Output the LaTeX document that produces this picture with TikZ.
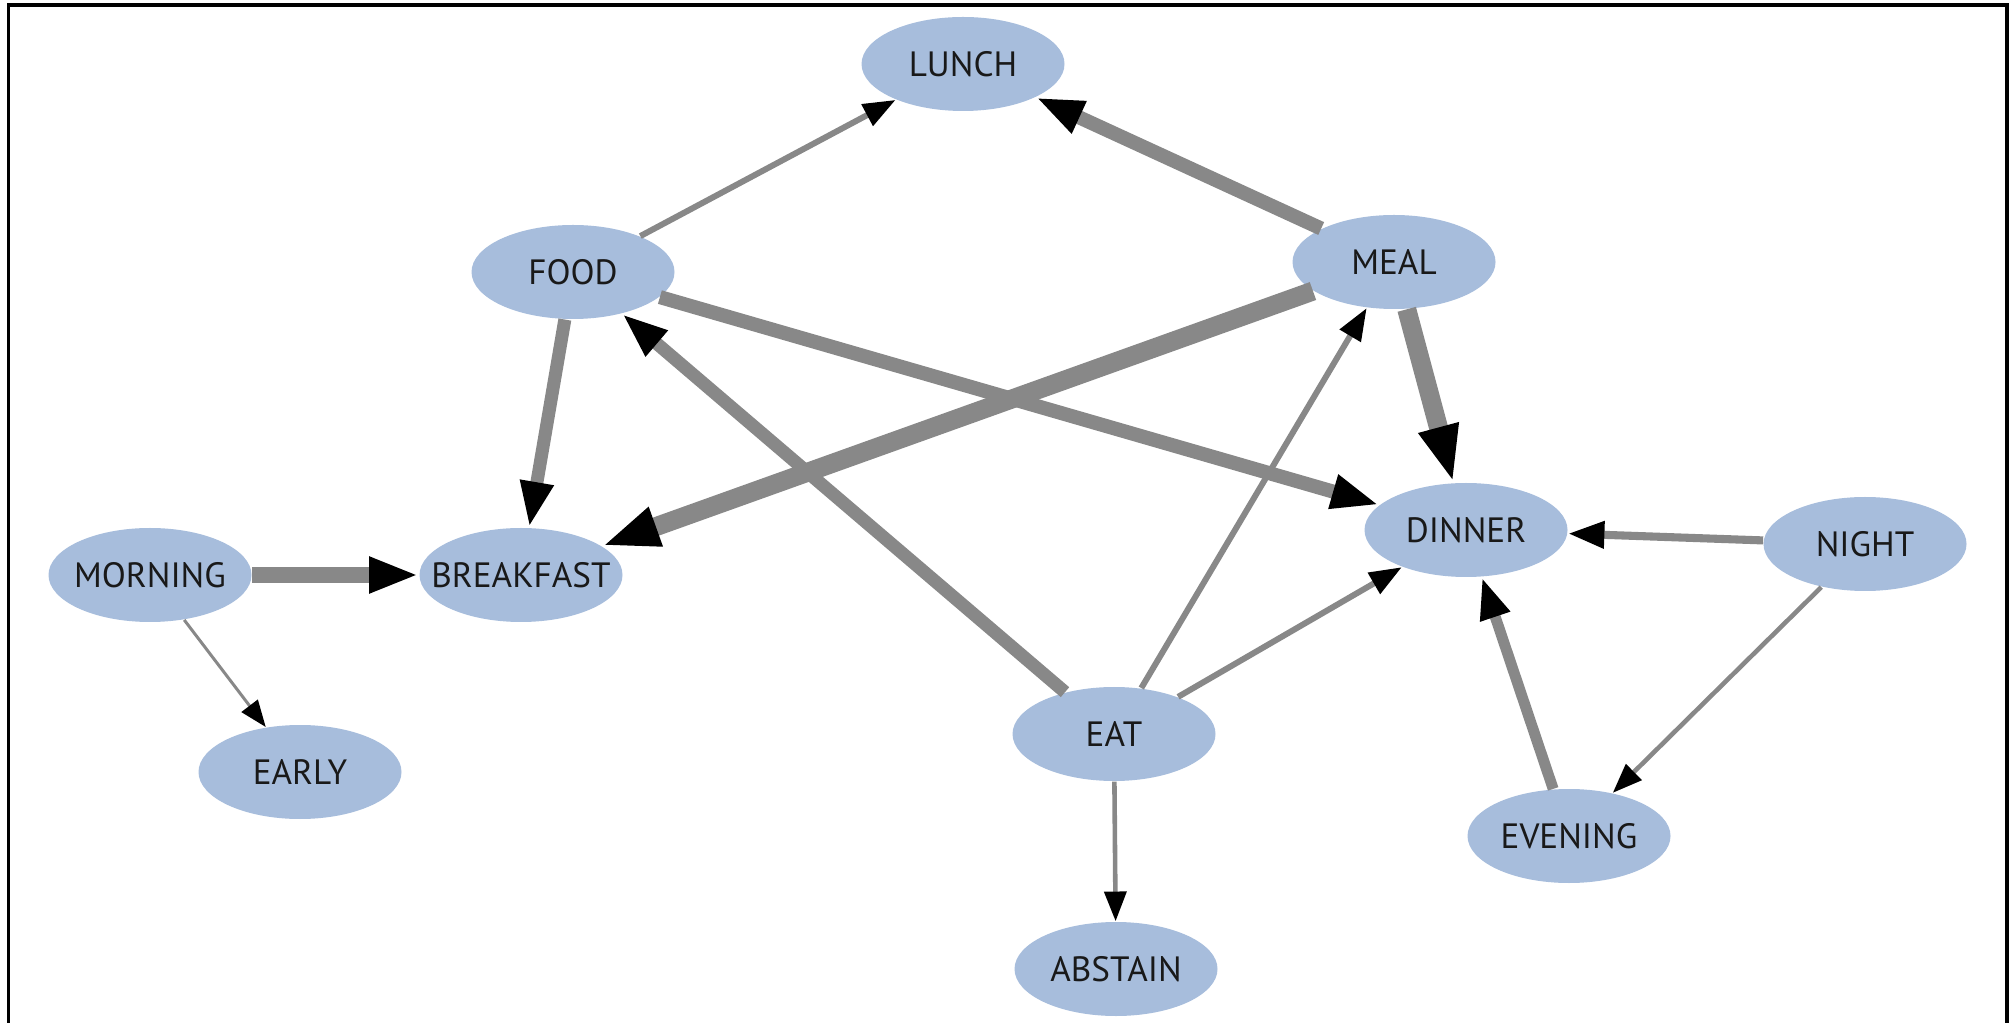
\documentclass[tikz,border=0pt]{standalone}
\usepackage{fontspec}
\setmainfont{PT Sans}
\usetikzlibrary{arrows.meta,shapes.geometric}
\definecolor{nodeblue}{RGB}{167,189,220}
\definecolor{linkgray}{RGB}{136,136,136}

\begin{document}
\begin{tikzpicture}[
  word/.style={ellipse,fill=nodeblue,minimum width=2.03cm,minimum height=0.94cm,
    inner xsep=-0.2cm,inner ysep=0pt,text=black!90,font=\fontsize{10}{12}\selectfont},
  link/.style={draw=linkgray,line width=#1,
    -{Triangle[color=black,length=6pt 1.9,width=4.75pt 1.1]}}
]
\useasboundingbox (0,0) rectangle (20.13,-10.23);
\draw[line width=0.9pt] (0.085,-10.23) -- (0.085,-0.05) -- (20.07,-0.05) -- (20.07,-10.23);

% words
\node[word] (lunch) at (9.63,-0.64) {LUNCH};
\node[word] (food) at (5.73,-2.72) {FOOD};
\node[word] (meal) at (13.94,-2.62) {MEAL};
\node[word] (dinner) at (14.66,-5.30) {DINNER};
\node[word] (night) at (18.65,-5.44) {NIGHT};
\node[word] (morning) at (1.50,-5.75) {MORNING};
\node[word] (breakfast) at (5.21,-5.75) {BREAKFAST};
\node[word] (early) at (3.00,-7.72) {EARLY};
\node[word] (eat) at (11.14,-7.34) {EAT};
\node[word] (evening) at (15.69,-8.36) {EVENING};
\node[word] (abstain) at (11.16,-9.69) {ABSTAIN};

% links, thickest last
\draw[link=1.7pt] (food) -- (lunch);
\draw[link=1.7pt] (eat) -- (meal);
\draw[link=1.7pt] (eat) -- (dinner);
\draw[link=1.3pt] (eat) -- (abstain);
\draw[link=1.3pt] (night) -- (evening);
\draw[link=0.85pt] (morning) -- (early);
\draw[link=2.3pt] (night) -- (dinner);
\draw[link=3.1pt] (evening) -- (dinner);
\draw[link=3.7pt] (food) -- (breakfast);
\draw[link=3.7pt] (eat) -- (food);
\draw[link=4pt] (meal) -- (lunch);
\draw[link=4pt] (food) -- (dinner);
\draw[link=4.3pt] (morning) -- (breakfast);
\draw[link=5.4pt] (meal) -- (breakfast);
\draw[link=5.4pt] (meal) -- (dinner);
\end{tikzpicture}
\end{document}
